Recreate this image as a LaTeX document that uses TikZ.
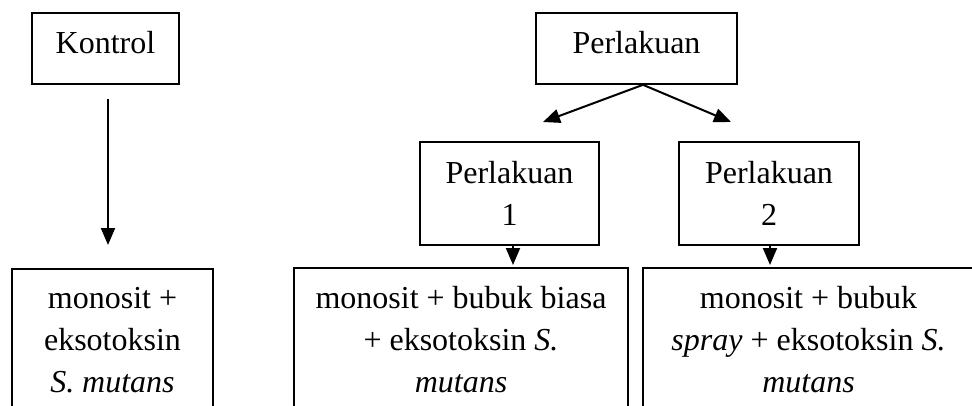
\documentclass[tikz,border=0pt]{standalone}
\usepackage{fontspec}
\setmainfont{Liberation Serif}
\usetikzlibrary{arrows.meta}
\begin{document}
\begin{tikzpicture}[x=1pt, y=-1pt]
    \tikzstyle{kotak} = [draw, line width=1.6pt, align=center, inner sep=0pt,
      font=\fontsize{32}{42}\selectfont]
    \tikzstyle{judul} = [kotak, minimum height=71pt, text height=21.5pt, text depth=12pt]
    \tikzstyle{hasil} = [kotak, anchor=north, minimum height=143pt]
    \tikzstyle{panah} = [line width=2pt, -{Triangle[length=17pt, width=14pt]}]
    \clip (0,0) rectangle (972,405);
    \fill[white] (0,0) rectangle (972,405);
    \node[judul, minimum width=147pt] (kontrol) at (105.5,48.5) {Kontrol};
    \node[judul, minimum width=201pt] (perlakuan) at (636.5,48.5) {Perlakuan};
    \node[kotak, minimum width=179pt, minimum height=103pt] (p1) at (509.5,193.5)
      {Perlakuan\\1};
    \node[kotak, minimum width=180pt, minimum height=103pt] (p2) at (769,193.5)
      {Perlakuan\\2};
    \node[hasil, minimum width=201pt] (hasil0) at (112.5,268)
      {monosit +\\eksotoksin\\\textit{S. mutans}};
    \node[hasil, minimum width=334pt] (hasil1) at (461,267)
      {monosit + bubuk biasa\\+ eksotoksin \textit{S.}\\\textit{mutans}};
    \node[hasil, minimum width=331pt] (hasil2) at (808.5,267)
      {monosit + bubuk\\\textit{spray} + eksotoksin \textit{S.}\\\textit{mutans}};
    \coordinate (kiri) at (543,122);
    \coordinate (kanan) at (731,122);
    \draw[panah, shorten <=14pt, shorten >=23pt]
      ([xshift=2.5pt]kontrol.south) -- ([xshift=2.5pt]kontrol.south |- hasil0.north);
    \draw[panah] ([xshift=6.5pt]perlakuan.south) -- (kiri);
    \draw[panah] ([xshift=6.5pt]perlakuan.south) -- (kanan);
    \draw[panah, shorten >=2pt]
      ([xshift=3.5pt]p1.south) -- ([xshift=3.5pt]p1.south |- hasil1.north);
    \draw[panah, shorten >=2pt]
      ([xshift=1pt]p2.south) -- ([xshift=1pt]p2.south |- hasil2.north);
\end{tikzpicture}
\end{document}
